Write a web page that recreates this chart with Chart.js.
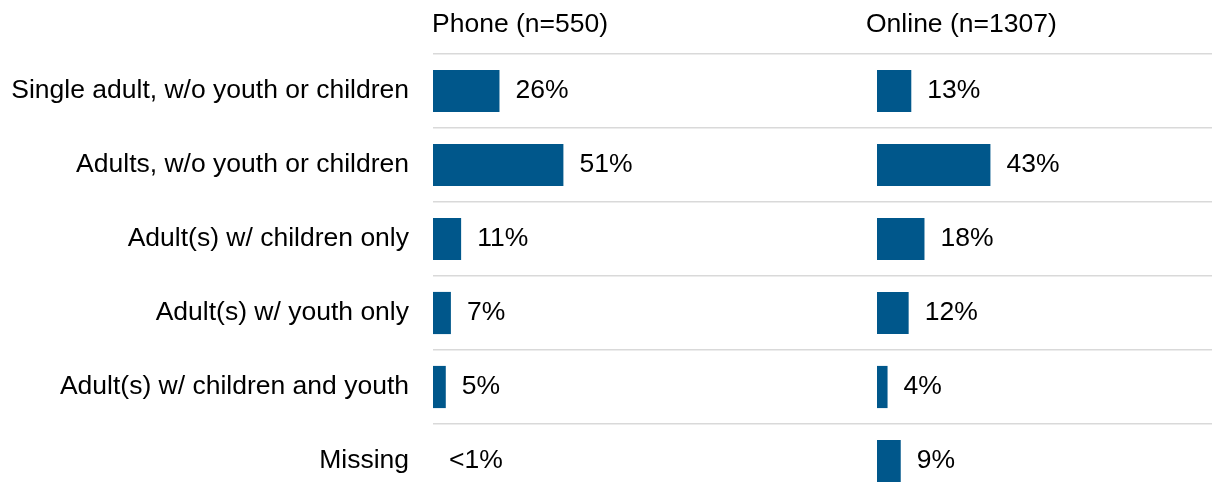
<!DOCTYPE html>
<html>
<head>
<meta charset="utf-8">
<script src="https://cdn.jsdelivr.net/npm/chart.js@4.4.1/dist/chart.umd.min.js"></script>
<style>
  html, body { margin: 0; padding: 0; background: #fff; overflow: hidden; }
  .wrap { position: relative; width: 1212px; height: 492px; overflow: hidden; }
  #phoneChart { position: absolute; left: 0; top: 0; }
  #onlineChart { position: absolute; left: 860px; top: 0; }
</style>
</head>
<body>
<div class="wrap">
  <canvas id="phoneChart" width="860" height="498"></canvas>
  <canvas id="onlineChart" width="352" height="498"></canvas>
</div>
<script>
// Household type, by survey mode
const categories = [
  "Single adult, w/o youth or children",
  "Adults, w/o youth or children",
  "Adult(s) w/ children only",
  "Adult(s) w/ youth only",
  "Adult(s) w/ children and youth",
  "Missing"
];
const phoneValues = [26, 51, 11, 7, 5, 0];
const phoneLabels = ["26%", "51%", "11%", "7%", "5%", "<1%"];
const onlineValues = [13, 43, 18, 12, 4, 9];
const onlineLabels = ["13%", "43%", "18%", "12%", "4%", "9%"];

const FONT = "'Liberation Sans', Arial, sans-serif";
const BAR_COLOR = "#00578b";
const GRID_COLOR = "#d9d9d9";

// draws the % label after each bar and the panel heading
function makeLabelPlugin(labels, heading, headingDx) {
  return {
    id: "valueLabels",
    afterDatasetsDraw(chart) {
      const ctx = chart.ctx;
      const meta = chart.getDatasetMeta(0);
      ctx.save();
      ctx.font = "26.5px " + FONT;
      ctx.fillStyle = "#000";
      ctx.textAlign = "left";
      ctx.textBaseline = "middle";
      meta.data.forEach((bar, i) => {
        ctx.fillText(labels[i], bar.x + 16, bar.y);
      });
      ctx.textBaseline = "alphabetic";
      ctx.fillText(heading, chart.chartArea.left + headingDx, 32);
      ctx.restore();
    }
  };
}

function panelOptions(xMax, axisWidth, showLabels) {
  return {
    responsive: false,
    animation: false,
    indexAxis: "y",
    layout: { padding: { top: 54, left: 0, right: 0, bottom: 0 } },
    plugins: { legend: { display: false }, tooltip: { enabled: false } },
    scales: {
      x: { display: false, min: 0, max: xMax },
      y: {
        border: { display: false },
        grid: {
          color: GRID_COLOR,
          lineWidth: 1.5,
          offset: true,
          drawTicks: !showLabels,
          tickLength: axisWidth
        },
        ticks: {
          display: showLabels,
          padding: 24,
          color: "#000",
          font: { family: FONT, size: 26.5 }
        },
        afterFit: function(scale) {
          scale.width = axisWidth;
          scale.paddingTop = 0;
          scale.paddingBottom = 0;
        }
      }
    }
  };
}

const phoneCtx = document.getElementById("phoneChart").getContext("2d");
const phoneChart = new Chart(phoneCtx, {
  type: "bar",
  data: {
    labels: categories,
    datasets: [{
      data: phoneValues,
      backgroundColor: BAR_COLOR,
      categoryPercentage: 1,
      barPercentage: 0.57
    }]
  },
  options: panelOptions(167, 433, true),
  plugins: [makeLabelPlugin(phoneLabels, "Phone (n=550)", -1)]
});

const onlineCtx = document.getElementById("onlineChart").getContext("2d");
const onlineChart = new Chart(onlineCtx, {
  type: "bar",
  data: {
    labels: categories,
    datasets: [{
      data: onlineValues,
      backgroundColor: BAR_COLOR,
      categoryPercentage: 1,
      barPercentage: 0.57
    }]
  },
  options: panelOptions(127, 17, false),
  plugins: [makeLabelPlugin(onlineLabels, "Online (n=1307)", -11)]
});
</script>
</body>
</html>
